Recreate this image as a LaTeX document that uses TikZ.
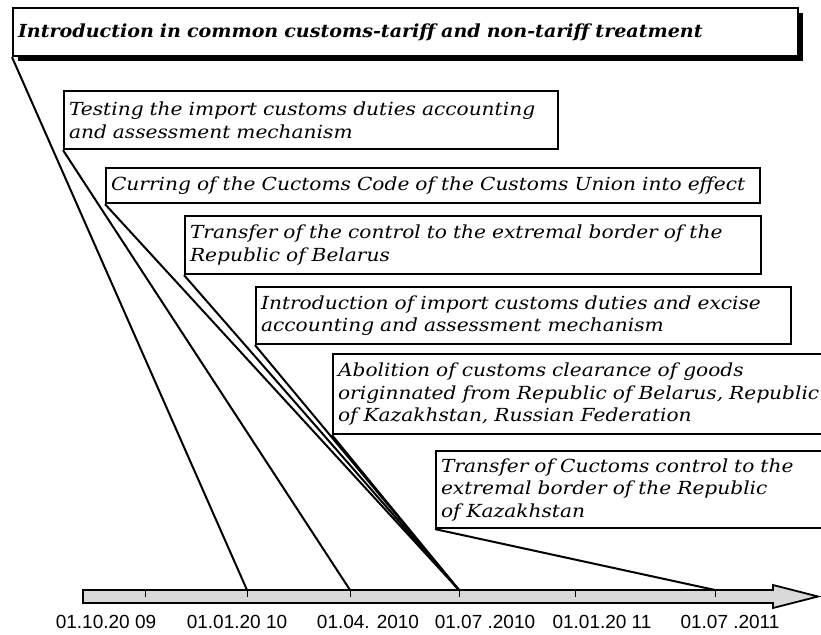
\documentclass[tikz,border=0pt]{standalone}
\usepackage{fontspec}
\setmainfont{DejaVu Serif}[FakeStretch=1.12]
\newfontfamily\titlefam{DejaVu Serif}[FakeStretch=1.06]
\newfontfamily\lblfont{Liberation Sans}
\usetikzlibrary{shadows}
\begin{document}
\begin{tikzpicture}[x=1pt,y=-1pt,
  evbox/.style={draw, line width=2.1pt, fill=white, anchor=north west, align=left,
    inner xsep=5pt, inner ysep=0pt, font=\fontsize{18}{22.5}\selectfont\itshape},
  conn/.style={line width=2pt},
  datelbl/.style={font=\lblfont\fontsize{19}{21}\selectfont, inner sep=0pt},
  tickmark/.style={line width=1pt}]
\clip (0,0) rectangle (821,634);

% timeline coordinates
\coordinate (t1) at (145,590);
\coordinate (t2) at (247,590);
\coordinate (t3) at (350,590);
\coordinate (t4) at (459,590);
\coordinate (t5) at (575,590);
\coordinate (t6) at (715,590);

% boxes
\node[evbox, font=\titlefam\fontsize{18}{22}\selectfont\bfseries\itshape, text width=775pt, minimum height=48pt,
  general shadow={fill=black, shadow xshift=5pt, shadow yshift=-5pt}] (b1) at (12,7)
  {Introduction in common customs-tariff and non-tariff treatment};
\node[evbox, text width=484pt, minimum height=58pt] (b2) at (63,90)
  {Testing the import customs duties accounting\\and assessment mechanism};
\node[evbox, text width=644pt, minimum height=35pt] (b3) at (105,167)
  {Curring of the Cuctoms Code of the Customs Union into effect};
\node[evbox, text width=566pt, minimum height=58pt] (b4) at (184,215)
  {Transfer of the control to the extremal border of the\\Republic of Belarus};
\node[evbox, text width=525pt, minimum height=57pt] (b5) at (255,286)
  {Introduction of import customs duties and excise\\accounting and assessment mechanism};
\node[evbox, text width=560pt, minimum height=80pt] (b6) at (332,353)
  {Abolition of customs clearance of goods\\originnated from Republic of Belarus, Republic\\of Kazakhstan, Russian Federation};
\node[evbox, text width=440pt, minimum height=77pt] (b7) at (435,450)
  {Transfer of Cuctoms control to the\\extremal border of the Republic\\of Kazakhstan};

% connectors
\draw[conn] (b1.south west) -- (t2);
\draw[conn] (b2.south west) -- (t3);
\draw[conn] (b3.south west) -- (t4);
\draw[conn] (b4.south west) -- (t4);
\draw[conn] (b5.south west) -- (t4);
\draw[conn] (b6.south west) -- (t4);
\draw[conn] (b7.south west) -- (t6);

% timeline arrow
\draw[line width=1.8pt, fill=black!15, line join=miter]
  (83,590) -- (773,590) -- (773,585) -- (818,596.5) -- (773,608) -- (773,603) -- (83,603) -- cycle;
\foreach \t in {t1,t2,t3,t4,t5,t6} \draw[tickmark] (\t) -- ++(0,7);

% date labels
\node[datelbl] (l1) at (106,622) {01.10.20 09};
\node[datelbl] (l2) at (237,622) {01.01.20 10};
\node[datelbl] (l3) at (368,622) {01.04. 2010};
\node[datelbl] (l4) at (485,622) {01.07 .2010};
\node[datelbl] (l5) at (602,622) {01.01.20 11};
\node[datelbl] (l6) at (730,622) {01.07 .2011};
\end{tikzpicture}
\end{document}
